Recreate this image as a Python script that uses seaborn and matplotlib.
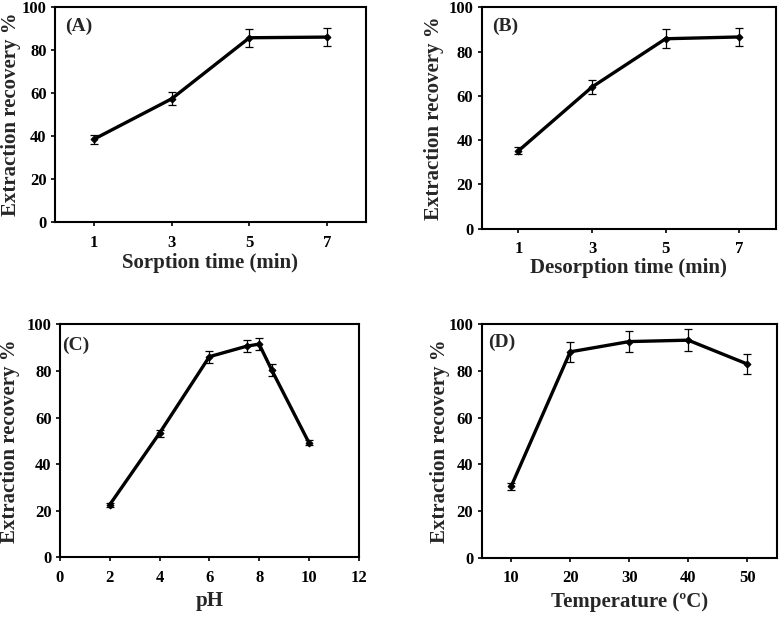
import matplotlib
matplotlib.use("Agg")
import matplotlib.pyplot as plt
import seaborn as sns
import pandas as pd

sns.set_theme(style="ticks")
plt.rcParams['font.family'] = ['Liberation Serif', 'DejaVu Serif']
plt.rcParams['font.weight'] = 'bold'

# Panel A: sorption time
a_x = [1, 3, 5, 7]
a_y = [38.5, 57.3, 85.7, 86.0]
a_err = [2.0, 3.0, 4.2, 4.2]

# Panel B: desorption time
b_x = [1, 3, 5, 7]
b_y = [35.2, 64.0, 85.8, 86.6]
b_err = [1.5, 3.2, 4.2, 4.2]

# Panel C: pH
c_x = [2, 4, 6, 7.5, 8, 8.5, 10]
c_y = [22.6, 53.3, 86.1, 90.6, 91.5, 80.5, 49.2]
c_err = [0.8, 1.5, 2.5, 2.5, 2.5, 2.5, 1.2]

# Panel D: temperature
d_x = [10, 20, 30, 40, 50]
d_y = [30.6, 88.2, 92.6, 93.2, 83.0]
d_err = [1.5, 4.4, 4.6, 4.6, 4.2]

ylabel = "Extraction recovery %"

W, H = 780, 618

# positions in pixels: left, top, right, bottom
panels = [
    dict(x=a_x, y=a_y, e=a_err, label="(A)", xlabel="Sorption time (min)",
         xlim=(0, 8), xticks=[1, 3, 5, 7], box=(55, 7, 366, 222),
         ylab_x=11.5, xlab_y=263, tag=(65, 26)),
    dict(x=b_x, y=b_y, e=b_err, label="(B)", xlabel="Desorption time (min)",
         xlim=(0, 8), xticks=[1, 3, 5, 7], box=(481.7, 7.3, 776, 228.7),
         ylab_x=433.5, xlab_y=268.5, tag=(492, 26)),
    dict(x=c_x, y=c_y, e=c_err, label="(C)", xlabel="pH",
         xlim=(0, 12), xticks=[0, 2, 4, 6, 8, 10, 12], box=(60, 324.3, 358.7, 557.3),
         ylab_x=10.5, xlab_y=601, tag=(62, 345)),
    dict(x=d_x, y=d_y, e=d_err, label="(D)", xlabel="Temperature (\u00baC)",
         xlim=(5, 55), xticks=[10, 20, 30, 40, 50], box=(481.7, 324.3, 776.7, 557.7),
         ylab_x=439.5, xlab_y=601.5, tag=(488, 342.5)),
]

fig = plt.figure(figsize=(7.8, 6.18), dpi=100)
fig.patch.set_facecolor("white")

for p in panels:
    l, t, r, b = p["box"]
    ax = fig.add_axes([l / W, 1 - b / H, (r - l) / W, (b - t) / H])
    aw, ah = r - l, b - t
    df = pd.DataFrame({"x": p["x"], "y": p["y"]})
    ax.errorbar(p["x"], p["y"], yerr=p["e"], fmt="none", ecolor="black",
                elinewidth=0.9, capsize=3, capthick=0.9, zorder=2)
    sns.lineplot(data=df, x="x", y="y", ax=ax, color="black", linewidth=2.4,
                 marker="D", markersize=3.5, markeredgecolor="black", zorder=3)
    ax.set_xlim(*p["xlim"])
    ax.set_ylim(0, 100)
    ax.set_xticks(p["xticks"])
    ax.set_yticks([0, 20, 40, 60, 80, 100])
    ax.set_facecolor("white")
    for s in ax.spines.values():
        s.set_linewidth(1.5)
        s.set_color("black")
        s.set_visible(True)
    ax.tick_params(direction="out", length=3, width=1.2, colors="black",
                   labelsize=12)
    ax.tick_params(axis="x", pad=6)
    ax.tick_params(axis="y", pad=3)
    for tl in ax.get_xticklabels() + ax.get_yticklabels():
        tl.set_fontweight("bold")
    ax.set_xlabel(p["xlabel"], fontsize=15, fontweight="bold", va="center")
    ax.set_ylabel(ylabel, fontsize=15, fontweight="bold", va="center")
    ax.xaxis.set_label_coords(0.5, (b - p["xlab_y"]) / ah)
    ax.yaxis.set_label_coords((p["ylab_x"] - l) / aw, 0.5)
    tx, ty = p["tag"]
    ax.text((tx - l) / aw, (b - ty) / ah, p["label"], transform=ax.transAxes,
            fontsize=14, fontweight="bold", ha="left", va="center")

fig.savefig("out.png", dpi=100, facecolor="white")
